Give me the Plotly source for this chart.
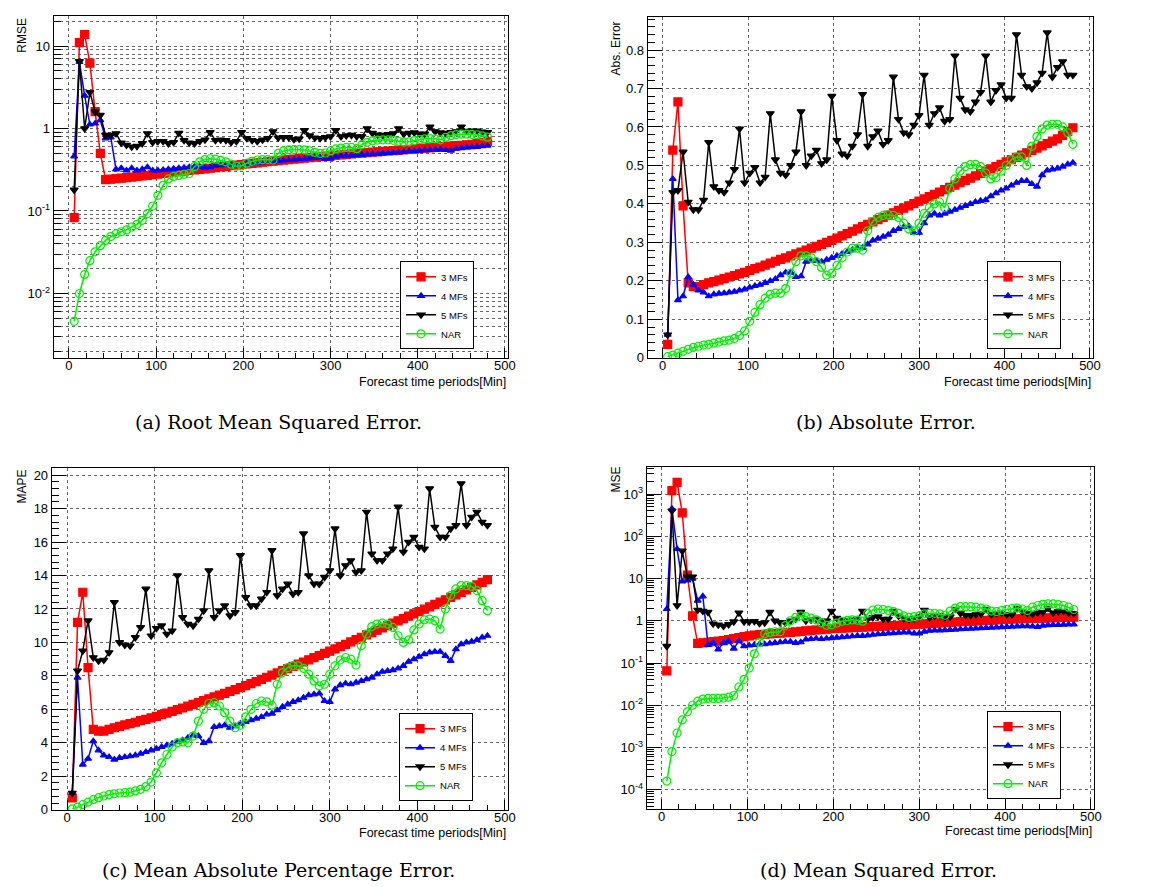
import plotly.graph_objects as go

# forecast horizon [min]
minutes = [6, 12, 18, 24, 30, 36, 42, 48, 54, 60,
           66, 72, 78, 84, 90, 96, 102, 108, 114, 120,
           126, 132, 138, 144, 150, 156, 162, 168, 174, 180,
           186, 192, 198, 204, 210, 216, 222, 228, 234, 240,
           246, 252, 258, 264, 270, 276, 282, 288, 294, 300,
           306, 312, 318, 324, 330, 336, 342, 348, 354, 360,
           366, 372, 378, 384, 390, 396, 402, 408, 414, 420,
           426, 432, 438, 444, 450, 456, 462, 468, 474, 480]

series_names = ["3 MFs", "4 MFs", "5 MFs", "NAR"]

# (a) RMSE
rmse_3mf = [0.083, 11.0, 13.8, 6.2, 1.6, 0.50, 0.24, 0.243, 0.247, 0.25,
            0.254, 0.258, 0.262, 0.266, 0.27, 0.275, 0.28, 0.285, 0.29, 0.295,
            0.30, 0.305, 0.31, 0.315, 0.32, 0.325, 0.33, 0.336, 0.342, 0.348,
            0.354, 0.36, 0.366, 0.372, 0.378, 0.384, 0.39, 0.396, 0.402, 0.408,
            0.414, 0.42, 0.426, 0.432, 0.438, 0.444, 0.45, 0.456, 0.462, 0.468,
            0.474, 0.48, 0.486, 0.492, 0.498, 0.504, 0.51, 0.516, 0.522, 0.528,
            0.534, 0.54, 0.546, 0.552, 0.558, 0.564, 0.57, 0.577, 0.584, 0.591,
            0.598, 0.605, 0.612, 0.619, 0.626, 0.634, 0.645, 0.66, 0.68, 0.70]
rmse_4mf = [0.46, 6.4, 2.5, 1.12, 1.15, 1.26, 0.76, 0.78, 0.32, 0.33,
            0.31, 0.33, 0.31, 0.32, 0.34, 0.31, 0.31, 0.315, 0.32, 0.325,
            0.33, 0.335, 0.34, 0.345, 0.345, 0.335, 0.34, 0.355, 0.36, 0.365,
            0.36, 0.365, 0.37, 0.375, 0.38, 0.385, 0.39, 0.395, 0.395, 0.405,
            0.41, 0.415, 0.42, 0.425, 0.43, 0.435, 0.44, 0.445, 0.43, 0.43,
            0.455, 0.465, 0.47, 0.47, 0.475, 0.48, 0.485, 0.49, 0.495, 0.50,
            0.505, 0.51, 0.515, 0.52, 0.53, 0.535, 0.54, 0.545, 0.55, 0.555,
            0.555, 0.55, 0.54, 0.57, 0.58, 0.59, 0.595, 0.60, 0.61, 0.62]
rmse_5mf = [0.18, 6.5, 1.0, 2.75, 1.6, 1.45, 0.83, 0.83, 0.87, 0.67,
            0.63, 0.6, 0.61, 0.66, 0.87, 0.68, 0.7, 0.7, 0.66, 0.68,
            0.88, 0.72, 0.67, 0.66, 0.7, 0.73, 0.9, 0.72, 0.73, 0.72,
            0.68, 0.7, 0.9, 0.76, 0.72, 0.7, 0.73, 0.76, 0.92, 0.77,
            0.78, 0.78, 0.74, 0.75, 0.95, 0.82, 0.77, 0.76, 0.78, 0.8,
            0.95, 0.8, 0.82, 0.83, 0.8, 0.8, 1.0, 0.88, 0.84, 0.83,
            0.85, 0.87, 1.0, 0.86, 0.88, 0.89, 0.86, 0.86, 1.05, 0.92,
            0.89, 0.88, 0.9, 0.92, 1.05, 0.93, 0.94, 0.94, 0.91, 0.9]
rmse_nar = [0.0046, 0.0100, 0.017, 0.025, 0.032, 0.038, 0.044, 0.049, 0.053, 0.056,
            0.059, 0.064, 0.069, 0.077, 0.093, 0.115, 0.155, 0.205, 0.245, 0.262,
            0.27, 0.278, 0.285, 0.345, 0.395, 0.42, 0.43, 0.425, 0.41, 0.395,
            0.37, 0.35, 0.352, 0.38, 0.40, 0.415, 0.42, 0.42, 0.415, 0.50,
            0.535, 0.55, 0.555, 0.555, 0.55, 0.535, 0.515, 0.50, 0.505, 0.535,
            0.565, 0.58, 0.59, 0.59, 0.57, 0.64, 0.68, 0.71, 0.725, 0.73,
            0.73, 0.72, 0.70, 0.685, 0.69, 0.715, 0.735, 0.75, 0.755, 0.75,
            0.73, 0.78, 0.82, 0.845, 0.855, 0.855, 0.85, 0.84, 0.815, 0.785]

# (b) absolute error
abs_3mf = [0.035, 0.54, 0.665, 0.395, 0.195, 0.185, 0.185, 0.19, 0.195, 0.198,
           0.202, 0.206, 0.21, 0.214, 0.218, 0.222, 0.227, 0.232, 0.236, 0.241,
           0.246, 0.251, 0.256, 0.26, 0.265, 0.27, 0.275, 0.28, 0.285, 0.29,
           0.295, 0.30, 0.305, 0.311, 0.317, 0.323, 0.329, 0.335, 0.341, 0.347,
           0.353, 0.359, 0.365, 0.371, 0.377, 0.383, 0.389, 0.395, 0.401, 0.407,
           0.413, 0.419, 0.425, 0.431, 0.437, 0.443, 0.449, 0.455, 0.461, 0.467,
           0.473, 0.479, 0.485, 0.491, 0.497, 0.503, 0.509, 0.515, 0.521, 0.527,
           0.533, 0.539, 0.545, 0.551, 0.557, 0.563, 0.569, 0.578, 0.588, 0.598]
abs_4mf = [0.06, 0.465, 0.15, 0.16, 0.21, 0.19, 0.175, 0.17, 0.16, 0.165,
           0.167, 0.168, 0.17, 0.172, 0.175, 0.178, 0.183, 0.187, 0.19, 0.195,
           0.20, 0.205, 0.215, 0.222, 0.222, 0.21, 0.212, 0.25, 0.253, 0.252,
           0.25, 0.255, 0.26, 0.265, 0.27, 0.275, 0.28, 0.285, 0.286, 0.295,
           0.305, 0.31, 0.315, 0.32, 0.33, 0.335, 0.34, 0.342, 0.325, 0.325,
           0.35, 0.37, 0.375, 0.37, 0.375, 0.38, 0.385, 0.39, 0.395, 0.40,
           0.405, 0.408, 0.41, 0.42, 0.428, 0.435, 0.44, 0.448, 0.455, 0.46,
           0.46, 0.452, 0.445, 0.475, 0.487, 0.49, 0.492, 0.497, 0.503, 0.507]
abs_5mf = [0.06, 0.43, 0.435, 0.535, 0.405, 0.385, 0.385, 0.41, 0.56, 0.445,
           0.435, 0.43, 0.455, 0.49, 0.595, 0.455, 0.48, 0.495, 0.455, 0.47,
           0.635, 0.515, 0.48, 0.475, 0.50, 0.535, 0.64, 0.50, 0.525, 0.54,
           0.505, 0.515, 0.68, 0.565, 0.53, 0.525, 0.55, 0.58, 0.685, 0.55,
           0.575, 0.59, 0.555, 0.565, 0.73, 0.62, 0.585, 0.58, 0.605, 0.63,
           0.735, 0.605, 0.635, 0.65, 0.615, 0.62, 0.785, 0.675, 0.645, 0.64,
           0.665, 0.69, 0.785, 0.665, 0.695, 0.71, 0.675, 0.675, 0.84, 0.735,
           0.705, 0.70, 0.715, 0.74, 0.845, 0.73, 0.755, 0.77, 0.735, 0.735]
abs_nar = [0.003, 0.007, 0.012, 0.017, 0.022, 0.027, 0.03, 0.033, 0.035, 0.038,
           0.041, 0.044, 0.046, 0.05, 0.058, 0.07, 0.095, 0.118, 0.138, 0.155,
           0.165, 0.168, 0.168, 0.18, 0.22, 0.25, 0.265, 0.265, 0.26, 0.25,
           0.235, 0.215, 0.22, 0.24, 0.26, 0.275, 0.285, 0.285, 0.28, 0.33,
           0.355, 0.365, 0.37, 0.372, 0.37, 0.365, 0.35, 0.335, 0.33, 0.35,
           0.375, 0.39, 0.40, 0.405, 0.39, 0.44, 0.465, 0.485, 0.497, 0.502,
           0.503, 0.497, 0.48, 0.465, 0.468, 0.485, 0.50, 0.515, 0.522, 0.522,
           0.50, 0.55, 0.575, 0.595, 0.605, 0.607, 0.607, 0.60, 0.585, 0.555]

# (c) MAPE
mape_3mf = [0.7, 11.2, 13.0, 8.5, 4.8, 4.7, 4.7, 4.8, 4.9, 4.98,
            5.07, 5.15, 5.23, 5.32, 5.40, 5.49, 5.58, 5.68, 5.78, 5.88,
            5.98, 6.08, 6.19, 6.30, 6.41, 6.52, 6.63, 6.74, 6.85, 6.96,
            7.07, 7.18, 7.30, 7.42, 7.54, 7.66, 7.79, 7.92, 8.05, 8.18,
            8.31, 8.44, 8.57, 8.70, 8.83, 8.96, 9.09, 9.22, 9.35, 9.48,
            9.61, 9.75, 9.89, 10.03, 10.17, 10.31, 10.45, 10.59, 10.73, 10.87,
            11.01, 11.15, 11.29, 11.43, 11.57, 11.71, 11.85, 11.99, 12.13, 12.27,
            12.41, 12.55, 12.69, 12.84, 12.99, 13.14, 13.29, 13.44, 13.59, 13.75]
mape_4mf = [1.0, 7.9, 2.7, 3.05, 4.1, 3.55, 3.25, 3.15, 3.0, 3.1,
            3.15, 3.2, 3.25, 3.35, 3.45, 3.55, 3.65, 3.75, 3.85, 3.95,
            4.05, 4.15, 4.3, 4.45, 4.4, 4.0, 4.1, 4.95, 5.0, 5.05,
            4.9, 5.0, 5.15, 5.25, 5.35, 5.45, 5.55, 5.7, 5.75, 5.95,
            6.15, 6.3, 6.45, 6.55, 6.7, 6.85, 6.9, 6.95, 6.5, 6.45,
            7.2, 7.45, 7.55, 7.5, 7.6, 7.7, 7.8, 7.9, 8.1, 8.25,
            8.3, 8.35, 8.45, 8.6, 8.85, 9.0, 9.15, 9.3, 9.4, 9.45,
            9.45, 9.2, 8.9, 9.6, 9.9, 10.0, 10.05, 10.15, 10.3, 10.4]
mape_5mf = [1.0, 8.3, 9.5, 11.3, 9.1, 8.9, 8.95, 9.4, 12.4, 10.0,
            9.85, 9.8, 10.3, 10.9, 13.2, 10.4, 10.85, 11.0, 10.5, 10.7,
            14.0, 11.5, 11.1, 11.0, 11.4, 11.9, 14.3, 11.5, 11.9, 12.2,
            11.6, 11.8, 15.2, 12.7, 12.2, 12.2, 12.6, 13.0, 15.5, 12.8,
            13.2, 13.5, 12.9, 13.0, 16.5, 14.0, 13.5, 13.5, 13.9, 14.3,
            16.8, 14.0, 14.6, 14.9, 14.2, 14.3, 17.8, 15.3, 14.9, 14.9,
            15.3, 15.6, 18.1, 15.4, 16.0, 16.3, 15.7, 15.6, 19.2, 16.9,
            16.3, 16.3, 16.8, 17.0, 19.5, 17.0, 17.5, 17.8, 17.2, 17.0]
mape_nar = [0.05, 0.15, 0.3, 0.45, 0.6, 0.72, 0.82, 0.9, 0.95, 1.0,
            1.02, 1.05, 1.12, 1.22, 1.38, 1.65, 2.2, 2.8, 3.3, 3.75,
            4.0, 4.05, 4.0, 4.4, 5.3, 6.0, 6.35, 6.4, 6.2, 5.8,
            5.3, 4.9, 5.05, 5.55, 6.0, 6.35, 6.5, 6.45, 6.25, 7.5,
            8.2, 8.5, 8.6, 8.6, 8.45, 8.1, 7.7, 7.4, 7.5, 8.1,
            8.6, 8.95, 9.1, 9.0, 8.65, 9.8, 10.5, 10.95, 11.1, 11.15,
            11.1, 10.9, 10.4, 10.0, 10.15, 10.75, 11.1, 11.35, 11.4, 11.3,
            10.8, 12.0, 12.8, 13.2, 13.4, 13.4, 13.35, 13.1, 12.5, 11.9]

# (d) MSE
mse_3mf = [0.065, 1200, 1900, 360, 12, 1.3, 0.29, 0.3, 0.31, 0.32,
           0.33, 0.34, 0.36, 0.38, 0.4, 0.42, 0.44, 0.46, 0.47, 0.48,
           0.49, 0.5, 0.51, 0.52, 0.53, 0.545, 0.56, 0.575, 0.59, 0.605,
           0.62, 0.635, 0.65, 0.66, 0.67, 0.68, 0.69, 0.7, 0.71, 0.72,
           0.73, 0.74, 0.75, 0.76, 0.77, 0.78, 0.79, 0.80, 0.815, 0.83,
           0.845, 0.86, 0.875, 0.89, 0.905, 0.92, 0.935, 0.95, 0.965, 0.98,
           0.995, 1.01, 1.025, 1.04, 1.055, 1.07, 1.085, 1.1, 1.11, 1.12,
           1.13, 1.14, 1.15, 1.16, 1.17, 1.18, 1.19, 1.2, 1.21, 1.22]
mse_4mf = [1.9, 450, 50, 8.5, 9.0, 10, 3.0, 3.8, 0.27, 0.3,
           0.21, 0.3, 0.33, 0.22, 0.33, 0.25, 0.26, 0.27, 0.28, 0.28,
           0.29, 0.3, 0.31, 0.32, 0.32, 0.3, 0.31, 0.36, 0.37, 0.38,
           0.37, 0.38, 0.39, 0.4, 0.41, 0.42, 0.43, 0.44, 0.44, 0.45,
           0.47, 0.48, 0.49, 0.5, 0.51, 0.52, 0.53, 0.53, 0.5, 0.5,
           0.55, 0.58, 0.59, 0.59, 0.6, 0.61, 0.62, 0.63, 0.64, 0.65,
           0.66, 0.67, 0.68, 0.69, 0.7, 0.71, 0.72, 0.73, 0.74, 0.75,
           0.75, 0.74, 0.72, 0.77, 0.79, 0.8, 0.8, 0.81, 0.82, 0.82]
mse_5mf = [0.25, 400, 2.3, 45, 11, 11, 1.8, 1.7, 1.6, 0.85,
           0.8, 0.75, 0.82, 0.95, 1.55, 0.95, 0.95, 0.97, 0.87, 0.9,
           1.6, 1.0, 0.9, 0.9, 1.0, 1.1, 1.6, 1.0, 1.05, 1.1,
           0.95, 1.0, 1.7, 1.15, 1.05, 1.0, 1.05, 1.1, 1.7, 1.1,
           1.2, 1.25, 1.1, 1.1, 1.7, 1.3, 1.15, 1.1, 1.15, 1.25,
           1.8, 1.2, 1.3, 1.35, 1.2, 1.25, 1.9, 1.5, 1.35, 1.35,
           1.4, 1.45, 1.9, 1.4, 1.5, 1.55, 1.4, 1.4, 2.0, 1.65,
           1.5, 1.45, 1.55, 1.6, 2.0, 1.55, 1.65, 1.7, 1.55, 1.5]
mse_nar = [0.00016, 0.0008, 0.0022, 0.0045, 0.007, 0.01, 0.0125, 0.014, 0.0145, 0.0145,
           0.0145, 0.0148, 0.0155, 0.017, 0.027, 0.041, 0.076, 0.165, 0.31, 0.49,
           0.53, 0.55, 0.55, 0.77, 1.0, 1.2, 1.3, 1.25, 1.15, 1.05,
           0.9, 0.78, 0.8, 0.88, 0.97, 1.02, 1.05, 1.03, 0.98, 1.5,
           1.8, 1.9, 1.85, 1.75, 1.65, 1.5, 1.3, 1.2, 1.25, 1.3,
           1.45, 1.5, 1.5, 1.45, 1.35, 1.7, 2.0, 2.15, 2.15, 2.15,
           2.1, 2.0, 1.9, 1.7, 1.65, 1.75, 1.85, 1.95, 2.0, 1.9,
           1.75, 2.1, 2.3, 2.45, 2.5, 2.5, 2.4, 2.3, 2.1, 1.85]

W, H = 1171, 887

# marker / line style per series
styles = [
    dict(color="#ff0000", symbol="square", size=8),
    dict(color="#0000ff", symbol="triangle-up", size=6),
    dict(color="#000000", symbol="triangle-down", size=7),
    dict(color="#00ee00", symbol="circle-open", size=8),
]

# panel boxes in pixels: left, right, top, bottom
panels = [
    dict(key="", data=[rmse_3mf, rmse_4mf, rmse_5mf, rmse_nar], box=(46, 503, 8, 353),
         ytitle="RMSE", ytitle_pos=(14, 27), log=True, yrange=[-2.78, 1.365],
         ytickvals=[0.01, 0.1, 1, 10], yticktext=["10<sup>-2</sup>", "10<sup>-1</sup>", "1", "10"],
         minor_grid=True, legend=(432, 300), xtitle_y=377,
         caption="(a) Root Mean Squared Error.", caption_pos=(272, 418)),
    dict(key="2", data=[abs_3mf, abs_4mf, abs_5mf, abs_nar], box=(644, 1092, 9, 353),
         ytitle="Abs. Error", ytitle_pos=(612, 41), log=False, yrange=[0, 0.886],
         dtick=0.1, minor_dtick=0.02, legend=(1023, 300), xtitle_y=377,
         caption="(b) Absolute Error.", caption_pos=(884, 418)),
    dict(key="3", data=[mape_3mf, mape_4mf, mape_5mf, mape_nar], box=(44, 503, 464, 809),
         ytitle="MAPE", ytitle_pos=(14, 483), log=False, yrange=[0, 20.44],
         dtick=2, minor_dtick=0.4, legend=(431, 756), xtitle_y=833,
         caption="(c) Mean Absolute Percentage Error.", caption_pos=(272, 870)),
    dict(key="4", data=[mse_3mf, mse_4mf, mse_5mf, mse_nar], box=(643, 1093, 463, 808),
         ytitle="MSE", ytitle_pos=(612, 476), log=True, yrange=[-4.45, 3.645],
         ytickvals=[1e-4, 1e-3, 1e-2, 0.1, 1, 10, 100, 1000],
         yticktext=["10<sup>-4</sup>", "10<sup>-3</sup>", "10<sup>-2</sup>", "10<sup>-1</sup>",
                    "1", "10", "10<sup>2</sup>", "10<sup>3</sup>"],
         minor_grid=False, legend=(1023, 754), xtitle_y=830,
         caption="(d) Mean Squared Error.", caption_pos=(876, 870)),
]

fig = go.Figure()
layout = dict(width=W, height=H, margin=dict(l=0, r=0, t=0, b=0),
              paper_bgcolor="white", plot_bgcolor="white",
              font=dict(family="Liberation Sans, Arial, sans-serif", size=13, color="black"),
              annotations=[])

grid_col = "#666666"
tick_font = dict(family="Liberation Sans, Arial, sans-serif", size=13, color="black")

for p in panels:
    k = p["key"]
    l, r, t, b = p["box"]
    xa, ya = "xaxis" + k, "yaxis" + k
    leg = "legend" + k

    for name, vals, st in zip(series_names, p["data"], styles):
        fig.add_trace(go.Scatter(
            x=minutes, y=vals, name=name, mode="lines+markers",
            xaxis="x" + k, yaxis="y" + k, legend=leg,
            line=dict(color=st["color"], width=1.5),
            marker=dict(color=st["color"], symbol=st["symbol"], size=st["size"],
                        line=dict(color=st["color"], width=1.2)),
        ))

    layout[xa] = dict(
        domain=[l / W, r / W], anchor="y" + k, range=[-17.5, 503],
        tickmode="linear", tick0=0, dtick=100, ticks="inside", ticklen=10,
        tickcolor="black", tickfont=tick_font, ticklabelstandoff=-4,
        showline=True, linecolor="black", linewidth=1, mirror=True,
        showgrid=True, gridcolor=grid_col, griddash="dot", gridwidth=1,
        minor=dict(dtick=20, ticks="inside", ticklen=5, tickcolor="black", showgrid=False),
        zeroline=False,
    )
    yax = dict(
        domain=[1 - b / H, 1 - t / H], anchor="x" + k, range=p["yrange"],
        ticks="inside", ticklen=14, tickcolor="black", tickfont=tick_font,
        showline=True, linecolor="black", linewidth=1, mirror=True,
        showgrid=True, gridcolor=grid_col, griddash="dot", gridwidth=1,
        zeroline=False,
    )
    if p["log"]:
        lo, hi = p["yrange"]
        minor_vals = []
        for e in range(int(lo) - 1, int(hi) + 1):
            for m in range(2, 10):
                minor_vals.append(m * 10 ** e)
        yax.update(type="log", tickmode="array", tickvals=p["ytickvals"], ticktext=p["yticktext"],
                   minor=dict(tickmode="array", tickvals=minor_vals, ticks="inside", ticklen=7,
                              tickcolor="black", showgrid=p["minor_grid"],
                              gridcolor=grid_col, griddash="dot", gridwidth=1))
    else:
        yax.update(tickmode="linear", tick0=0, dtick=p["dtick"],
                   minor=dict(dtick=p["minor_dtick"], ticks="inside", ticklen=7,
                              tickcolor="black", showgrid=False))
    layout[ya] = yax

    lx, ly = p["legend"]
    layout[leg] = dict(
        x=lx / W, y=1 - ly / H, xanchor="center", yanchor="middle",
        bgcolor="white", bordercolor="black", borderwidth=1,
        font=dict(family="Liberation Sans, Arial, sans-serif", size=9.5, color="black"),
        itemwidth=30, tracegroupgap=0,
    )

    # y-axis title (ROOT style, top-left, rotated)
    tx, ty = p["ytitle_pos"]
    layout["annotations"].append(dict(
        text=p["ytitle"], x=tx / W, y=1 - ty / H, xref="paper", yref="paper",
        textangle=-90, showarrow=False, xanchor="center", yanchor="middle",
        font=dict(family="Liberation Sans, Arial, sans-serif", size=12, color="black")))
    # x-axis title, right aligned under the frame
    layout["annotations"].append(dict(
        text="Forecast time periods[Min]", x=r / W, y=1 - p["xtitle_y"] / H,
        xref="paper", yref="paper", showarrow=False, xanchor="right", yanchor="middle",
        font=dict(family="Liberation Sans, Arial, sans-serif", size=12.5, color="black")))
    # caption
    cx, cy = p["caption_pos"]
    layout["annotations"].append(dict(
        text=p["caption"], x=cx / W, y=1 - cy / H, xref="paper", yref="paper",
        showarrow=False, xanchor="center", yanchor="middle",
        font=dict(family="DejaVu Serif, serif", size=19, color="black")))

fig.update_layout(**layout)
fig.write_html("out.html")
